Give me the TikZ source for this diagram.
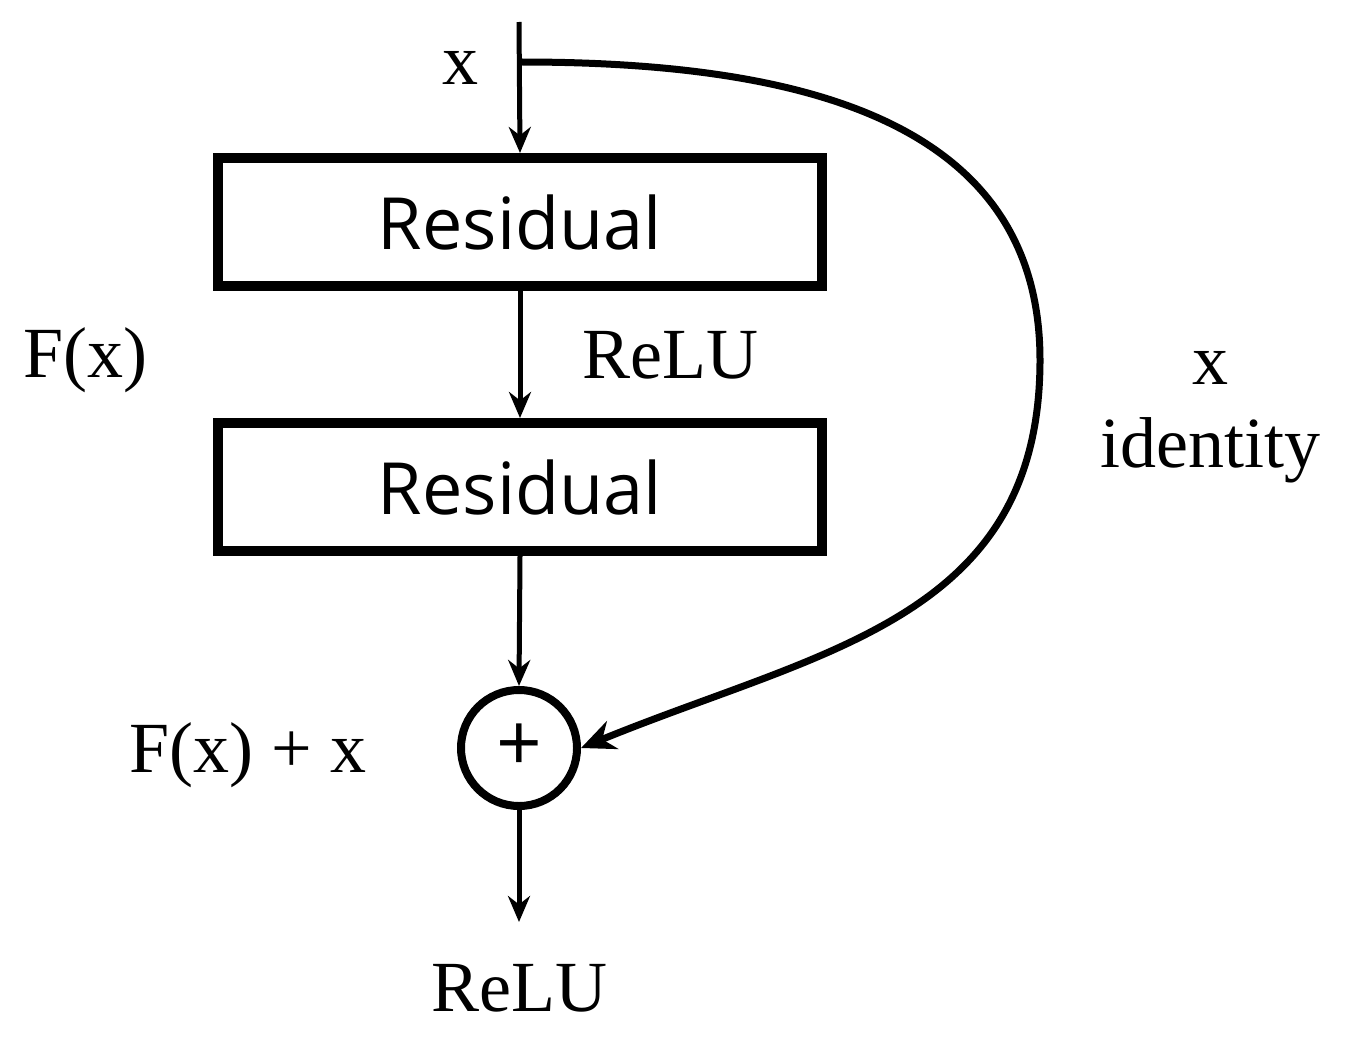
\documentclass[tikz,border=0pt]{standalone}
\usepackage{fontspec}
\setmainfont{Liberation Serif}
\newfontfamily\sansf{Open Sans}
\usetikzlibrary{arrows.meta}
\begin{document}
\begin{tikzpicture}[x=1pt,y=-1pt,
  box/.style={draw,line width=10pt,minimum width=604pt,minimum height=128pt,font=\sansf\fontsize{72}{80}\selectfont},
  lbl/.style={font=\fontsize{72}{78}\selectfont,inner sep=0pt},
  arr/.style={line width=5pt,-{Stealth[length=26pt,width=22pt]}}]
\useasboundingbox (0,0) rectangle (1370,1038);
\coordinate (top) at (519,22);
\coordinate (cs) at (521,62);
\node[box] (b1) at (520,222) {Residual};
\node[box] (b2) at (520,487) {Residual};
\node[circle,draw,line width=8pt,minimum size=116pt,inner sep=0pt,font=\sansf\fontsize{80}{80}\selectfont] (plus) at (519,748) {+};
\coordinate (out) at (519,922);
\node[lbl] (lx) at (460,68) {x};
\node[lbl] (lrelu1) at (670,355) {ReLU};
\node[lbl] (lfx) at (85,360) {F(x)};
\node[lbl] (lsum) at (248,755) {F(x) + x};
\node[lbl] (lrelu2) at (519,988) {ReLU};
\node[lbl] (lid1) at (1210,368) {x};
\node[lbl] (lid2) at (1210,450) {identity};
\draw[arr] (top) -- (b1.north);
\draw[arr] (b1.south) -- (b2.north);
\draw[arr] (b2.south) -- (plus.north);
\draw[arr] (plus.south) -- (out);
\draw[line width=7pt,-{Stealth[length=34pt,width=30pt]}] (cs) .. controls (800,62) and (1040,120) .. (1040,360) .. controls (1040,620) and (820,650) .. (plus.east);
\end{tikzpicture}
\end{document}
